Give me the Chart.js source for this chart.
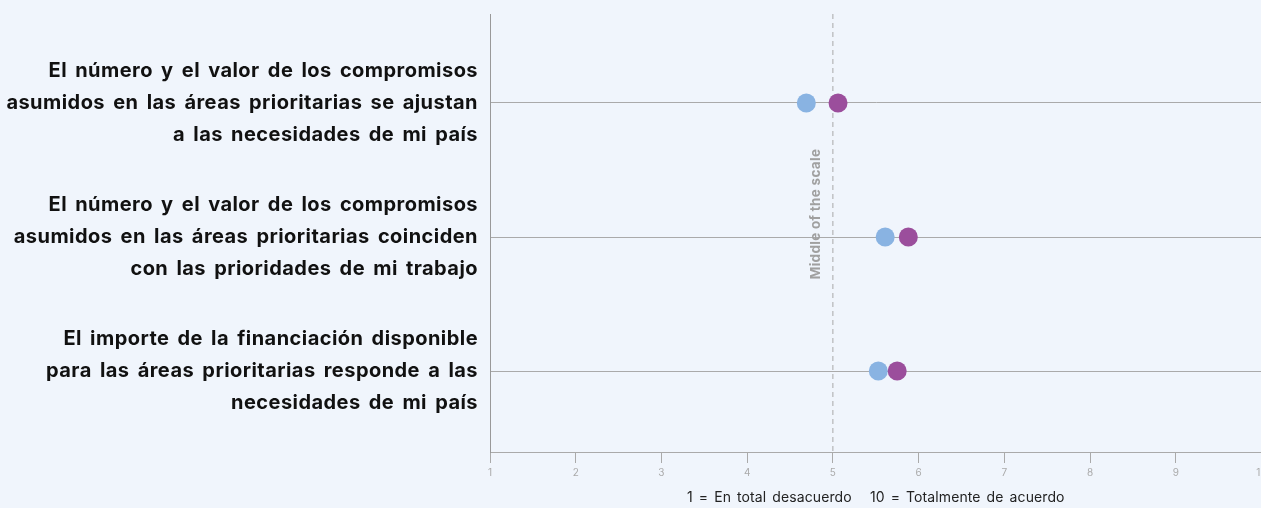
<!DOCTYPE html>
<html><head><meta charset="utf-8">
<script src="https://cdn.jsdelivr.net/npm/chart.js@4/dist/chart.umd.min.js"></script>
<style>
html,body{margin:0;padding:0;background:#f0f5fc;overflow:hidden}
#wrap{position:relative;width:1271px;height:508px}
</style></head><body>
<div id="wrap"><canvas id="c"></canvas></div>
<script>
const categories = [
  ["El número y el valor de los compromisos", "asumidos en las áreas prioritarias se ajustan", "a las necesidades de mi país"],
  ["El número y el valor de los compromisos", "asumidos en las áreas prioritarias coinciden", "con las prioridades de mi trabajo"],
  ["El importe de la financiación disponible", "para las áreas prioritarias responde a las", "necesidades de mi país"]
];
const rowPositions = [1, 2, 3];
const seriesNames = ["Serie A", "Serie B"];
const seriesBlue = [4.69, 5.61, 5.53];
const seriesPurple = [5.06, 5.88, 5.75];
const xTicks = [1, 2, 3, 4, 5, 6, 7, 8, 9, 10];
const xMin = 1, xMax = 10;
const yMin = 0.336, yMax = 3.604;
const midpoint = 5;
const midLabel = "Middle of the scale";
const axisTitle = "1 = En total desacuerdo\u00A0\u00A0\u00A010 = Totalmente de acuerdo";

const FONT = "Inter, 'Open Sans', sans-serif";

const spacingPlugin = {
  id: 'spacing',
  afterUpdate(chart) {
    const y = chart.scales.y, x = chart.scales.x;
    if (y && !y._spWrapped) {
      const orig = y.drawLabels;
      y.drawLabels = function (ca) {
        const c = this.ctx; c.save();
        c.wordSpacing = '3px'; c.letterSpacing = '0.45px';
        orig.call(this, ca); c.restore();
      };
      y._spWrapped = true;
    }
    if (x && !x._spWrapped) {
      const origT = x.drawTitle;
      x.drawTitle = function () {
        const c = this.ctx; c.save();
        c.wordSpacing = '2px'; c.letterSpacing = '0.1px';
        origT.call(this); c.restore();
      };
      x._spWrapped = true;
    }
  }
};

const midTextPlugin = {
  id: 'midText',
  afterDatasetsDraw(chart) {
    const {ctx, scales: {x}, chartArea} = chart;
    const px = x.getPixelForValue(midpoint) - 17;
    const py = chartArea.top + 200;
    ctx.save();
    ctx.translate(px, py);
    ctx.rotate(-Math.PI / 2);
    ctx.font = "bold 13.5px " + FONT;
    ctx.letterSpacing = '0.3px';
    ctx.fillStyle = "#a0a0a0";
    ctx.textAlign = "center";
    ctx.textBaseline = "middle";
    ctx.fillText(midLabel, 0, 0);
    ctx.restore();
  }
};

new Chart(document.getElementById('c'), {
  type: 'scatter',
  data: {
    datasets: [
      {
        type: 'line',
        label: 'mid',
        data: [{x: midpoint, y: yMin}, {x: midpoint, y: yMax}],
        borderColor: '#a8a8a8',
        borderWidth: 1,
        borderDash: [5, 4],
        pointRadius: 0,
        order: 3
      },
      {
        label: seriesNames[0],
        data: seriesBlue.map((v, i) => ({x: v, y: rowPositions[i]})),
        backgroundColor: '#89b3e2',
        borderWidth: 0,
        pointRadius: 9.5,
        pointHoverRadius: 9.5,
        order: 2
      },
      {
        label: seriesNames[1],
        data: seriesPurple.map((v, i) => ({x: v, y: rowPositions[i]})),
        backgroundColor: '#9b4e9c',
        borderWidth: 0,
        pointRadius: 9.5,
        pointHoverRadius: 9.5,
        order: 1
      }
    ]
  },
  options: {
    responsive: true,
    maintainAspectRatio: false,
    animation: false,
    devicePixelRatio: 1,
    layout: {padding: {top: 14, left: 0, right: 0, bottom: 0}},
    plugins: {legend: {display: false}, tooltip: {enabled: false}},
    scales: {
      x: {
        type: 'linear',
        min: xMin, max: xMax,
        afterBuildTicks: s => { s.ticks = xTicks.map(v => ({value: v})); },
        afterFit: s => { s.height = 56; s.paddingRight = 0; s.paddingLeft = 0; },
        grid: {drawOnChartArea: false, drawTicks: true, tickLength: 11, color: '#aaaaaa'},
        border: {display: true, color: '#aaaaaa'},
        ticks: {color: '#aaaaaa', font: {family: FONT, size: 10}, padding: 4, maxRotation: 0, autoSkip: false},
        title: {display: true, text: axisTitle, color: '#222222', font: {family: FONT, size: 14}, padding: {top: 0, bottom: 2}}
      },
      y: {
        type: 'linear',
        reverse: true,
        min: yMin, max: yMax,
        afterBuildTicks: s => { s.ticks = rowPositions.map(v => ({value: v})); },
        afterFit: s => { s.width = 490; s.paddingTop = 0; s.paddingBottom = 0; },
        grid: {drawTicks: false, color: '#aaaaaa'},
        border: {display: true, color: '#999999'},
        ticks: {
          color: '#111111',
          font: {family: FONT, size: 20, weight: 'bold', lineHeight: 1.6},
          padding: 12,
          autoSkip: false,
          callback: (v) => { const i = rowPositions.indexOf(v); return i >= 0 ? categories[i] : ''; }
        }
      }
    }
  },
  plugins: [spacingPlugin, midTextPlugin]
});
</script>
</body></html>
